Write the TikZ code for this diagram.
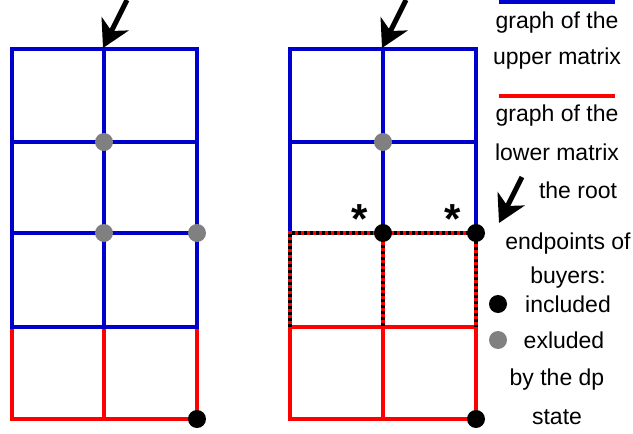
\documentclass[tikz,border=0pt]{standalone}
\usepackage{fontspec}
\setmainfont{Liberation Sans}
\usetikzlibrary{arrows.meta}
\tikzset{
	upper/.style={draw=blue!80!black, line width=4.5pt},
	lower/.style={draw=red, line width=4.5pt},
	dpline/.style={draw=black, line width=4.5pt, dash pattern=on 3pt off 3pt},
	rootarrow/.style={line width=5pt, -{Stealth[length=27pt,width=30pt,inset=8pt]}},
	legtext/.style={font=\fontsize{23}{27}\selectfont, inner sep=0pt},
	star/.style={font=\fontsize{42}{42}\selectfont\bfseries, inner sep=0pt}
}
\def\incl(#1){\fill[black] (#1) circle (9);}
\def\excl(#1){\fill[gray] (#1) circle (9);}

\begin{document}
\begin{tikzpicture}[x=1pt, y=-1pt]
		\useasboundingbox (0, 0) rectangle (633, 434);
		%%%%% LEFT GRID %%%%%
		\draw[lower] (12, 327) -- (12, 419) -- (197, 419) -- (197, 327);
		\draw[lower] (104, 327) -- (104, 419);
		\draw[upper] (12, 49) rectangle (197, 327);
		\draw[upper] (12, 142) -- (197, 142);
		\draw[upper] (12, 233) -- (197, 233);
		\draw[upper] (104, 49) -- (104, 327);
		
		\draw[rootarrow] (127, 0) -- (103, 48);
		
		\excl(104, 142)
		\excl(104, 233)
		\excl(197, 233)
		\incl(197, 419)
		
		%%%%% RIGHT GRID %%%%%
		\draw[lower] (290, 327) rectangle (476, 419);
		\draw[lower] (383, 327) -- (383, 419);
		\draw[upper] (290, 233) -- (290, 49) -- (476, 49) -- (476, 233);
		\draw[upper] (290, 142) -- (476, 142);
		\draw[upper] (383, 49) -- (383, 233);
		
		\draw[lower] (290, 327) -- (290, 233) -- (476, 233) -- (476, 327);
		\draw[lower] (383, 233) -- (383, 327);
		\draw[dpline] (290, 327) -- (290, 233) -- (476, 233) -- (476, 327);
		\draw[dpline] (383, 233) -- (383, 327);
		
		\draw[rootarrow] (406, 0) -- (382, 48);
		
		\excl(383, 142)
		\incl(383, 233)
		\incl(476, 233)
		\incl(476, 419)
		
		\node[star] (s1) at (360, 219) {*};
		\node[star] (s2) at (453, 219) {*};
		
		%%%%% LEGEND %%%%%
		\draw[upper] (499, 2) -- (615, 2);
		\node[legtext] (up1) at (557, 23) {graph of the};
		\node[legtext] (up2) at (557, 59) {upper matrix};
		
		\draw[lower] (499, 96) -- (615, 96);
		\node[legtext] (lo1) at (557, 116) {graph of the};
		\node[legtext] (lo2) at (557, 152) {lower matrix};
		
		\draw[rootarrow] (522, 177) -- (499, 223);
		\node[legtext] (root) at (578, 190) {the root};
		
		\node[legtext] (ep1) at (568, 244) {endpoints of};
		\node[legtext] (ep2) at (568, 278) {buyers:};
		\incl(498, 304)
		\node[legtext] (inc) at (568, 304) {included};
		\excl(498, 340)
		\node[legtext] (exc) at (564, 340) {exluded};
		
		\node[legtext] (dp1) at (557, 380) {by the dp};
		\node[legtext] (dp2) at (557, 417) {state};
		%%%%% END %%%%%
\end{tikzpicture}
\end{document}
